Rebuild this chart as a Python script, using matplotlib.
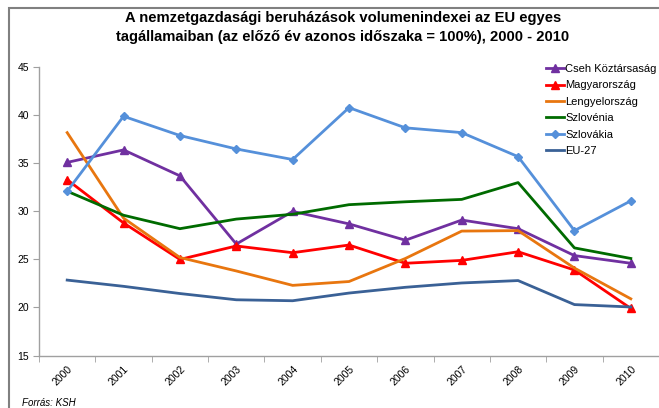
import matplotlib
matplotlib.use("Agg")
import matplotlib.pyplot as plt
from matplotlib.patches import Rectangle

plt.rcParams['font.family'] = ['Liberation Sans', 'DejaVu Sans']

years = ['2000', '2001', '2002', '2003', '2004', '2005', '2006', '2007', '2008', '2009', '2010']
cseh = [35.1, 36.4, 33.7, 26.6, 30.0, 28.7, 27.0, 29.1, 28.2, 25.4, 24.6]
magyar = [33.3, 28.8, 25.0, 26.4, 25.7, 26.5, 24.6, 24.9, 25.8, 23.9, 19.9]
lengyel = [38.2, 29.3, 25.2, 23.8, 22.3, 22.7, 25.1, 27.95, 28.0, 24.1, 20.9]
szlovenia = [32.1, 29.6, 28.2, 29.2, 29.7, 30.7, 31.0, 31.25, 33.0, 26.2, 25.1]
szlovakia = [32.1, 39.9, 37.9, 36.5, 35.4, 40.8, 38.7, 38.2, 35.7, 28.0, 31.1]
eu27 = [22.85, 22.2, 21.45, 20.8, 20.7, 21.5, 22.1, 22.55, 22.8, 20.3, 20.05]

series = [
    ('Cseh Köztársaság', cseh, '#7030A0', '^', 6),
    ('Magyarország', magyar, '#FF0000', '^', 6),
    ('Lengyelország', lengyel, '#E8760F', None, 0),
    ('Szlovénia', szlovenia, '#006B00', None, 0),
    ('Szlovákia', szlovakia, '#5590DA', 'D', 4.5),
    ('EU-27', eu27, '#3A6196', None, 0),
]

W, H = 659, 408
fig = plt.figure(figsize=(W / 100, H / 100), dpi=100)
ax = fig.add_axes([39 / W, 1 - 355.5 / H, (659 - 39) / W, (355.5 - 67.3) / H])

x = list(range(len(years)))
for name, vals, col, mk, ms in series:
    ax.plot(x, vals, color=col, lw=2, marker=mk, markersize=ms, label=name)

ax.set_xlim(-0.5, 10.5)
ax.set_ylim(15, 45)
ax.set_yticks([15, 20, 25, 30, 35, 40, 45])
ax.set_xticks(x)
ax.set_xticklabels(years, rotation=45, ha='right', rotation_mode='anchor', fontsize=7.5)
ax.set_xticks([i - 0.5 for i in range(12)], minor=True)
ax.tick_params(axis='x', which='major', length=0, pad=6)
ax.tick_params(axis='x', which='minor', length=4, color='#A0A0A0', direction='out')
ax.tick_params(axis='y', length=4, color='#A0A0A0', direction='out', labelsize=7.5, pad=3)
for s in ['top', 'right']:
    ax.spines[s].set_visible(False)
for s in ['left', 'bottom']:
    ax.spines[s].set_color('#A0A0A0')
    ax.spines[s].set_linewidth(1.0)

leg = ax.legend(loc='upper left', bbox_to_anchor=(546 / W, 1 - 64 / H),
                bbox_transform=fig.transFigure, frameon=False,
                fontsize=8, handlelength=1.6, handletextpad=0.15,
                labelspacing=0.58, borderpad=0, borderaxespad=0)

fig.text(0.52, 1 - 18 / H, 'A nemzetgazdasági beruházások volumenindexei az EU egyes',
         ha='center', va='center', fontsize=10.6, fontweight='bold')
fig.text(0.52, 1 - 37 / H, 'tagállamaiban (az előző év azonos időszaka = 100%), 2000 - 2010',
         ha='center', va='center', fontsize=10.6, fontweight='bold')
fig.text(22 / W, 1 - 403 / H, 'Forrás: KSH', ha='left', va='center',
         fontsize=7, style='italic')

fig.patches.append(Rectangle((9 / W, -0.1), 1.2, 1.1 - 8 / H,
                             transform=fig.transFigure, fill=False,
                             edgecolor='#808080', lw=1.5))

fig.savefig('out.png', dpi=100)
